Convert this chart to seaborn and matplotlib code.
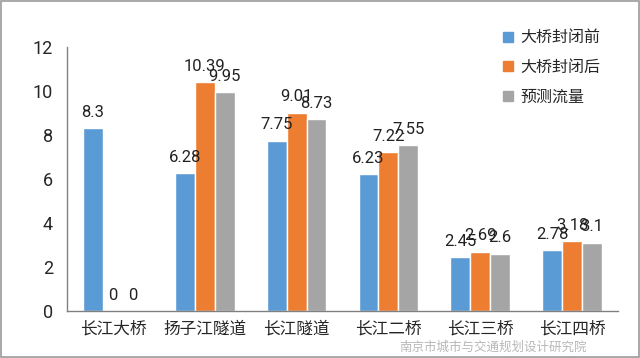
import matplotlib
matplotlib.use("Agg")
import matplotlib.pyplot as plt
import seaborn as sns
import pandas as pd
from matplotlib.patches import Rectangle

categories = ["长江大桥", "扬子江隧道", "长江隧道", "长江二桥", "长江三桥", "长江四桥"]
series_names = ["大桥封闭前", "大桥封闭后", "预测流量"]
before = [8.3, 6.28, 7.75, 6.23, 2.45, 2.78]
after = [0, 10.39, 9.01, 7.22, 2.69, 3.18]
forecast = [0, 9.95, 8.73, 7.55, 2.6, 3.1]
colors = ["#5B9BD5", "#ED7D31", "#A5A5A5"]
watermark = "南京市城市与交通规划设计研究院"

rows = []
for name, vals in zip(series_names, [before, after, forecast]):
    for c, v in zip(categories, vals):
        rows.append({"cat": c, "series": name, "value": v})
df = pd.DataFrame(rows)

sns.set_style("white")
plt.rcParams["font.family"] = ["Noto Sans CJK SC", "DejaVu Sans"]
numfont = ["Roboto", "DejaVu Sans"]

fig = plt.figure(figsize=(6.4, 3.58), dpi=100)
ax = fig.add_axes([67/640, 1-311/358, (618-67)/640, (311-47)/358])
sns.barplot(data=df, x="cat", y="value", hue="series", palette=colors,
            width=0.65, saturation=1, ax=ax, legend=False, order=categories,
            hue_order=series_names)

ax.set_ylim(0, 12)
ax.set_xlim(-0.5, len(categories) - 0.5)
ax.set_yticks(range(0, 13, 2))
ax.set_xticks([i - 0.5 for i in range(len(categories) + 1)], minor=False)
ax.set_xticklabels([])
ax.set_xticks(range(len(categories)), minor=True)
ax.set_xticklabels(categories, minor=True, fontsize=12)
ax.tick_params(axis="x", which="minor", length=0, pad=7)
ax.tick_params(axis="x", which="major", length=8, width=1, color="#808080", direction="out")
ax.tick_params(axis="y", length=5, width=1, color="#808080", direction="out", labelsize=13, pad=5)
for lab in ax.get_yticklabels():
    lab.set_family(numfont)
ax.set_xlabel("")
ax.set_ylabel("")
for s in ["top", "right"]:
    ax.spines[s].set_visible(False)
for s in ["left", "bottom"]:
    ax.spines[s].set_color("#808080")
    ax.spines[s].set_linewidth(1)

for cont in ax.containers:
    ax.bar_label(cont, labels=[f"{v:g}" for v in cont.datavalues], padding=6,
                 fontsize=12, family=numfont, color="#222222")

handles = [Rectangle((0, 0), 1, 1, color=c) for c in colors]
fig.legend(handles, series_names, loc="upper left", bbox_to_anchor=(489/640, 1-15/358),
           frameon=False, fontsize=11.5, handlelength=0.6, handleheight=0.6,
           handletextpad=0.45, labelspacing=0.78)

fig.text(0.77, 1-347/358, watermark, fontsize=9, color="#999999",
         alpha=0.7, ha="center", va="center")

fig.patches.append(Rectangle((0.001, 0.002), 0.997, 0.995, transform=fig.transFigure,
                             fill=False, edgecolor="#9a9a9a", linewidth=1.2))
fig.savefig("out.png", dpi=100)
